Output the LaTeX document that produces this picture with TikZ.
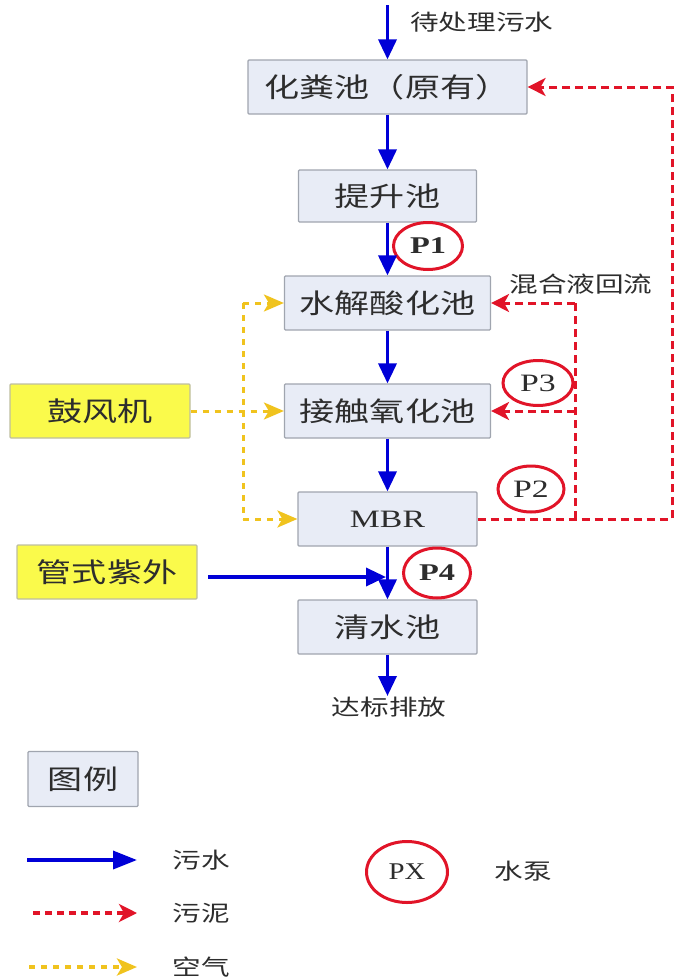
\documentclass[tikz,border=0pt]{standalone}
\usepackage{fontspec}
\setmainfont{Noto Sans CJK SC}[FakeStretch=1.3]
\newfontfamily\latf{Liberation Serif}[FakeStretch=1.35]
\newfontfamily\latpx{Liberation Serif}[FakeStretch=1.2]
\usetikzlibrary{arrows.meta,shapes.geometric}
\newcommand\fsbox{\fontsize{27}{30}\selectfont}
\newcommand\fslab{\fontsize{22}{26}\selectfont}
\definecolor{flowblue}{RGB}{0,0,215}
\definecolor{sludgered}{RGB}{225,20,40}
\definecolor{airyellow}{RGB}{240,195,30}
\definecolor{boxfill}{RGB}{232,236,246}
\definecolor{boxline}{RGB}{160,165,175}
\definecolor{yfill}{RGB}{250,250,75}
\definecolor{yline}{RGB}{190,190,160}
\definecolor{txt}{RGB}{45,45,45}
\tikzset{
  tank/.style={draw=boxline, fill=boxfill, line width=1.2pt, inner sep=0pt, text=txt, font=\fsbox, rounded corners=1pt},
  ybox/.style={draw=yline, fill=yfill, line width=1.2pt, inner sep=0pt, text=txt, font=\fsbox, rounded corners=1pt},
  pump/.style={ellipse, draw=sludgered, line width=3pt, inner sep=0pt, text=txt},
  lab/.style={inner sep=0pt, text=txt, font=\fslab},
  water/.style={draw=flowblue, line width=3.5pt, -{Triangle[width=18pt,length=20pt]}},
  sludge/.style={draw=sludgered, line width=3pt, dash pattern=on 8pt off 5pt, -{Stealth[width=18pt,length=18pt,inset=5pt]}},
  sludgeline/.style={draw=sludgered, line width=3pt, dash pattern=on 8pt off 5pt},
  air/.style={draw=airyellow, line width=3pt, dash pattern=on 6pt off 6pt, -{Stealth[width=17pt,length=20pt,inset=5pt]}},
  airline/.style={draw=airyellow, line width=3pt, dash pattern=on 6pt off 6pt},
}
\begin{document}
\begin{tikzpicture}[x=1pt,y=-1pt]
\useasboundingbox (0,0) rectangle (674,980);
% tanks
\node[tank, minimum width=279pt, minimum height=54pt] (hfc) at (387.5,87) {化粪池（原有）};
\node[tank, minimum width=178pt, minimum height=52pt] (tsc) at (387.5,196) {提升池};
\node[tank, minimum width=206pt, minimum height=54pt] (sj) at (387.5,303) {水解酸化池};
\node[tank, minimum width=206pt, minimum height=54pt] (jc) at (387.5,411) {接触氧化池};
\node[tank, minimum width=179pt, minimum height=54pt, font=\latf\fontsize{25}{28}\selectfont] (mbr) at (387.5,519) {MBR};
\node[tank, minimum width=179pt, minimum height=54pt] (qs) at (387.5,627) {清水池};
\node[ybox, minimum width=180pt, minimum height=54pt] (blower) at (100,411) {鼓风机};
\node[ybox, minimum width=180pt, minimum height=54pt] (uv) at (107,572) {管式紫外};
\node[tank, minimum width=110pt, minimum height=55pt] (legend) at (83,779) {图例};
% labels
\node[lab, anchor=west] (inlab) at (410,22) {待处理污水};
\node[lab] (outlab) at (389,707) {达标排放};
\node[lab] (mixlab) at (581,284) {混合液回流};
% pumps
\node[pump, minimum width=69pt, minimum height=47pt, font=\latf\bfseries\fontsize{24}{26}\selectfont] (p1) at (428,246) {P1};
\node[pump, minimum width=70pt, minimum height=45pt, font=\latf\fontsize{25}{26}\selectfont] (p3) at (538,383) {P3};
\node[pump, minimum width=66pt, minimum height=46pt, font=\latf\fontsize{25}{26}\selectfont] (p2) at (531,489) {P2};
\node[pump, minimum width=67pt, minimum height=50pt, font=\latf\bfseries\fontsize{24}{26}\selectfont] (p4) at (437,573) {P4};
% coordinates
\coordinate (in) at (387.5,5);
\coordinate (out) at (387.5,696);
\coordinate (rc1) at (672,519);
\coordinate (rc2) at (672,87);
\coordinate (mx1) at (575,519);
\coordinate (mx2) at (575,303);
\coordinate (ya) at (243,303);
\coordinate (yb) at (243,519);
\coordinate (uvs) at (208,577);
\coordinate (uvt) at (386,577);
% water flow
\draw[water] (in) -- (hfc.north);
\draw[water] (hfc.south) -- (tsc.north);
\draw[water] (tsc.south) -- (sj.north);
\draw[water] (sj.south) -- (jc.north);
\draw[water] (jc.south) -- (mbr.north);
\draw[water] (mbr.south) -- (qs.north);
\draw[water] (qs.south) -- (out);
\draw[water] (uvs) -- (uvt);
% sludge
\draw[sludge] (mbr.east) -- (rc1) -- (rc2) -- (hfc.east);
\draw[sludgeline] (mx1) -- (mx2);
\draw[sludge] (mx2) -- (sj.east);
\draw[sludge] (mx1 |- jc.east) -- (jc.east);
% air
\draw[air] (blower.east) -- (jc.west);
\draw[airline] (ya) -- (yb);
\draw[air] (ya) -- (sj.west);
\draw[air] (yb) -- (mbr.west);
% legend
\coordinate (lw1) at (27,860);
\coordinate (lw2) at (137,860);
\coordinate (ls1) at (33,913);
\coordinate (ls2) at (137,913);
\coordinate (la1) at (29,967);
\coordinate (la2) at (137,967);
\draw[water, line width=3.5pt, -{Triangle[width=18pt,length=24pt]}] (lw1) -- (lw2);
\draw[sludge, line width=3.5pt, dash pattern=on 7pt off 5pt] (ls1) -- (ls2);
\draw[air, line width=3.5pt] (la1) -- (la2);
\node[lab] (lwt) at (201,860) {污水};
\node[lab] (lst) at (201,913) {污泥};
\node[lab] (lat) at (201,967) {空气};
\node[pump, minimum width=81pt, minimum height=61pt, font=\latpx\fontsize{24}{26}\selectfont] (px) at (407,872) {PX};
\node[lab] (pxt) at (523,871) {水泵};
\end{tikzpicture}
\end{document}
